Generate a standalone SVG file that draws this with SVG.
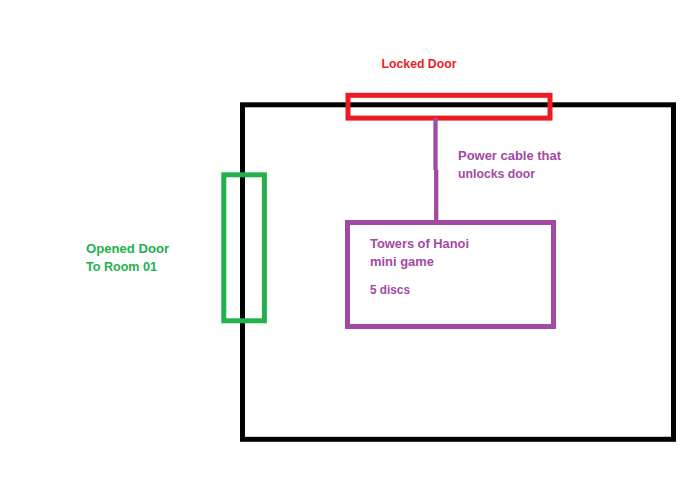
<svg xmlns="http://www.w3.org/2000/svg" width="698" height="484" viewBox="0 0 698 484">
<style>
.t{font-family:"Liberation Sans",Arial,sans-serif;font-weight:bold;font-size:12px}
.red{fill:#ED1C24}.pur{fill:#A349A4}.grn{fill:#22B14C}
</style>
<rect width="698" height="484" fill="#fff"/>
<g id="room">
<rect x="242.5" y="104.8" width="431" height="334.5" fill="none" stroke="#000" stroke-width="5"/>
</g>
<g id="locked-door">
<rect x="348" y="95.3" width="202" height="22.8" fill="none" stroke="#ED1C24" stroke-width="5"/>
<text class="t red" x="381.5" y="68.3" textLength="75" lengthAdjust="spacingAndGlyphs">Locked Door</text>
</g>
<g id="opened-door">
<rect x="223.8" y="174.8" width="40.6" height="146" fill="none" stroke="#22B14C" stroke-width="5"/>
<text class="t grn" x="86" y="253.3" textLength="83" lengthAdjust="spacingAndGlyphs">Opened Door</text>
<text class="t grn" x="86" y="271" textLength="71" lengthAdjust="spacingAndGlyphs">To Room 01</text>
</g>
<g id="connectors">
<line x1="435.5" y1="118" x2="435.5" y2="170" stroke="#A349A4" stroke-width="4.3"/>
<line x1="436.2" y1="170" x2="436.2" y2="222" stroke="#A349A4" stroke-width="4.3"/>
<text class="t pur" x="458" y="160" textLength="103" lengthAdjust="spacingAndGlyphs">Power cable that</text>
<text class="t pur" x="458" y="178.3" textLength="77" lengthAdjust="spacingAndGlyphs">unlocks door</text>
</g>
<g id="hanoi">
<rect x="347.5" y="222.5" width="206" height="104" fill="none" stroke="#A349A4" stroke-width="5"/>
<text class="t pur" x="370" y="248" textLength="99" lengthAdjust="spacingAndGlyphs">Towers of Hanoi</text>
<text class="t pur" x="370" y="266" textLength="64" lengthAdjust="spacingAndGlyphs">mini game</text>
<text class="t pur" x="370" y="294" textLength="40" lengthAdjust="spacingAndGlyphs">5 discs</text>
</g>
</svg>
